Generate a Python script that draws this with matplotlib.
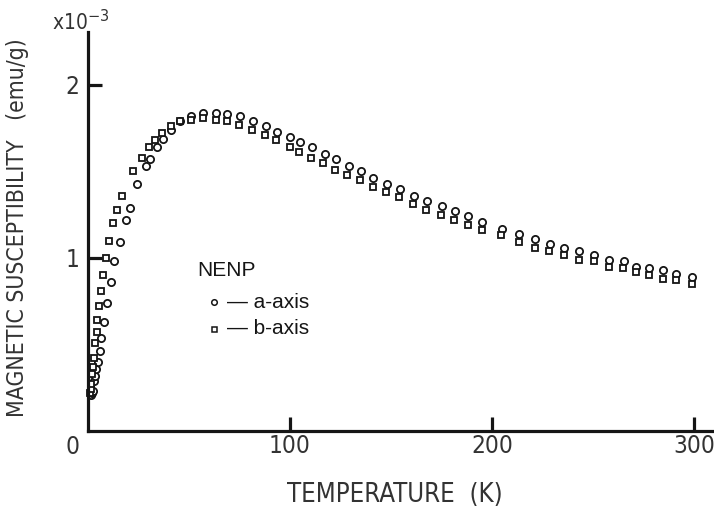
import matplotlib
matplotlib.use('Agg')
import matplotlib.pyplot as plt
from matplotlib import font_manager

# ---- data (T in K, chi in 1e-3 emu/g) ----
T_a = [1.3, 2.0, 2.6, 3.1, 3.6, 4.1, 4.8, 5.8, 6.6, 7.9,
       9.3, 11.2, 13.1, 15.6, 19.0, 20.8, 24.4, 28.7, 30.7, 34.0,
       37.0, 41.2, 45.5, 50.8, 57.1, 63.4, 69.0, 75.2, 81.8, 88.1,
       93.4, 100.0, 105.0, 110.9, 117.2, 122.9, 129.1, 135.1, 141.2, 148.0,
       154.6, 161.5, 167.7, 175.1, 181.5, 188.3, 195.2, 204.8, 213.5, 221.4,
       228.6, 235.8, 243.1, 250.5, 258.1, 265.2, 271.6, 277.9, 284.5, 291.4,
       299.2]
chi_a = [0.21, 0.22, 0.23, 0.29, 0.32, 0.36, 0.40, 0.46, 0.54, 0.63,
         0.74, 0.86, 0.98, 1.09, 1.22, 1.29, 1.43, 1.53, 1.57, 1.64,
         1.69, 1.74, 1.79, 1.82, 1.84, 1.84, 1.83, 1.82, 1.79, 1.76,
         1.73, 1.70, 1.67, 1.64, 1.60, 1.57, 1.53, 1.50, 1.46, 1.43,
         1.40, 1.36, 1.33, 1.30, 1.27, 1.24, 1.21, 1.17, 1.14, 1.11,
         1.08, 1.06, 1.04, 1.02, 0.99, 0.98, 0.95, 0.94, 0.93, 0.91,
         0.89]

T_b = [1.0, 1.3, 1.6, 2.1, 2.6, 3.0, 3.6, 4.3, 4.5, 5.4,
       6.4, 7.4, 9.1, 10.5, 12.2, 14.4, 17.0, 22.1, 26.9, 30.0,
       33.3, 36.5, 40.9, 45.5, 50.8, 57.1, 63.4, 69.0, 74.9, 81.3,
       87.6, 93.1, 100.0, 104.6, 110.4, 116.5, 122.4, 128.4, 134.5, 140.9,
       147.4, 153.8, 161.0, 167.3, 174.6, 181.3, 188.0, 195.3, 204.3, 213.5,
       221.4, 228.4, 235.8, 243.1, 250.5, 257.9, 264.9, 271.6, 277.9, 284.5,
       291.2, 299.0]
chi_b = [0.22, 0.24, 0.27, 0.33, 0.37, 0.42, 0.51, 0.57, 0.64, 0.72,
         0.81, 0.90, 1.00, 1.10, 1.20, 1.28, 1.36, 1.50, 1.58, 1.64,
         1.68, 1.72, 1.76, 1.79, 1.80, 1.81, 1.80, 1.79, 1.77, 1.74,
         1.71, 1.68, 1.64, 1.61, 1.58, 1.55, 1.51, 1.48, 1.45, 1.41,
         1.38, 1.35, 1.31, 1.28, 1.25, 1.22, 1.19, 1.16, 1.13, 1.09,
         1.06, 1.04, 1.02, 0.99, 0.98, 0.95, 0.94, 0.92, 0.90, 0.88,
         0.87, 0.85]

x_ticks = [100, 200, 300]
y_ticks = [1, 2]

# narrow font for the hand-lettered axis text, if there is one
names = {f.name for f in font_manager.fontManager.ttflist}
narrow = 'Liberation Sans Narrow' if 'Liberation Sans Narrow' in names else 'DejaVu Sans'
lettering = dict(family=narrow, stretch='condensed', color='#333')
plain = ['Liberation Sans', 'DejaVu Sans']

fig = plt.figure(figsize=(7.14, 5.07), dpi=100)
ax = fig.add_axes([88 / 714, 76 / 507, 624 / 714, 399 / 507])
ax.set_xlim(0, 309)
ax.set_ylim(0, 2.306)

ink = '#151515'
ax.plot(T_a, chi_a, 'o', ms=5.2, mfc='white', mec=ink, mew=1.3, clip_on=False)
ax.plot(T_b, chi_b, 's', ms=4.6, mfc='white', mec=ink, mew=1.3, clip_on=False)

for s in ['top', 'right']:
    ax.spines[s].set_visible(False)
for s in ['left', 'bottom']:
    ax.spines[s].set_linewidth(2.3)
    ax.spines[s].set_color(ink)

ax.set_xticks(x_ticks)
ax.set_xticklabels([str(v) for v in x_ticks], fontsize=17.5, **lettering)
ax.set_yticks(y_ticks)
ax.set_yticklabels([str(v) for v in y_ticks], fontsize=17.5, **lettering)
ax.tick_params(direction='in', length=10, width=2.3, color=ink)
ax.tick_params(axis='x', pad=2)
ax.tick_params(axis='y', pad=6)

# origin label and multiplier
ax.text(-7.5, -0.025, '0', fontsize=17.5, ha='center', va='top', **lettering)
fig.text(52 / 714, 1 - 22 / 507, r'x10$^{-3}$', fontsize=15, va='center', ha='left', **lettering)

# axis titles
fig.text(18 / 714, 1 - 228 / 507, 'MAGNETIC SUSCEPTIBILITY   (emu/g)', rotation=90,
         fontsize=16.5, ha='center', va='center', **lettering)
fig.text(395 / 714, 1 - 482 / 507, 'TEMPERATURE  (K)', fontsize=18.5,
         ha='center', va='top', **lettering)

# hand-drawn legend
ax.text(54, 0.925, 'NENP', family=plain, fontsize=15, color=ink, va='center')
ax.plot([62.5], [0.745], 'o', ms=4, mfc='white', mec=ink, mew=1.1)
ax.plot([62.5], [0.59], 's', ms=3.6, mfc='white', mec=ink, mew=1.1)
ax.text(69, 0.745, '— a-axis', family=plain, fontsize=15, color=ink, va='center')
ax.text(69, 0.59, '— b-axis', family=plain, fontsize=15, color=ink, va='center')

plt.savefig('out.png', dpi=100)
